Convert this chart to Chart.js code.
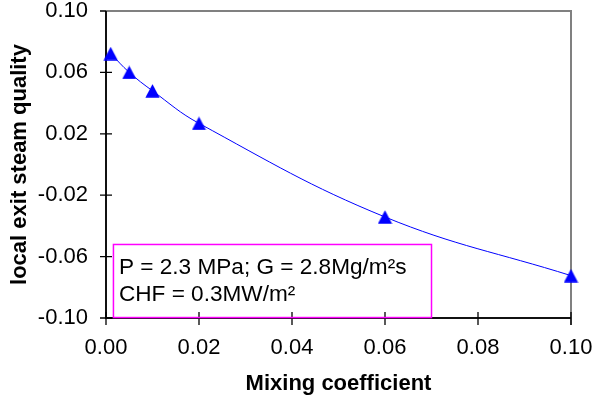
<!DOCTYPE html>
<html>
<head>
<meta charset="utf-8">
<script src="https://cdn.jsdelivr.net/npm/chart.js@4/dist/chart.umd.min.js"></script>
<style>
html,body{margin:0;padding:0;background:#fff;}
#wrap{width:593px;height:405px;}
</style>
</head>
<body>
<div id="wrap"><canvas id="c" width="593" height="405"></canvas></div>
<script>
// ---- data ----
const mixingCoefficient = [0.001, 0.005, 0.01, 0.02, 0.06, 0.10];
const exitQuality = [0.0723, 0.060, 0.048, 0.0268, -0.0342, -0.0724];
const xTicks = [0, 0.02, 0.04, 0.06, 0.08, 0.10];
const yTicks = [-0.10, -0.06, -0.02, 0.02, 0.06, 0.10];
const xTitle = 'Mixing coefficient';
const yTitle = 'local exit steam quality';
const noteLines = ['P = 2.3 MPa; G = 2.8Mg/m\u00B2s', 'CHF = 0.3MW/m\u00B2'];

const FONT = "'Liberation Sans', Arial, Helvetica, sans-serif";
Chart.defaults.font.family = FONT;
Chart.defaults.color = '#000';

// triangle marker centred on its bounding box
const tri = document.createElement('canvas');
tri.width = 15; tri.height = 14;
(function(){
  const g = tri.getContext('2d');
  g.fillStyle = '#0000FF';
  g.beginPath();
  g.moveTo(7.5, 0.3);
  g.lineTo(14.6, 13.7);
  g.lineTo(0.4, 13.7);
  g.closePath();
  g.fill();
})();

const framePlugin = {
  id: 'frame',
  beforeDatasetsDraw(chart) {
    const {ctx, chartArea: a, scales: {x, y}} = chart;
    ctx.save();
    ctx.strokeStyle = '#808080';
    ctx.lineWidth = 2;
    ctx.beginPath();
    ctx.moveTo(a.left, a.top);
    ctx.lineTo(a.right, a.top);
    ctx.lineTo(a.right, a.bottom + 7);
    ctx.stroke();
    ctx.strokeStyle = '#111';
    ctx.beginPath();
    ctx.moveTo(a.left, a.top);
    ctx.lineTo(a.left, a.bottom);
    ctx.lineTo(a.right, a.bottom);
    ctx.stroke();
    ctx.lineWidth = 1.3;
    ctx.strokeStyle = '#000';
    ctx.beginPath();
    yTicks.forEach(v => {
      const py = y.getPixelForValue(v);
      ctx.moveTo(a.left - 6, py);
      ctx.lineTo(v >= 0.1 ? a.left : a.left + 6, py);
    });
    xTicks.forEach(v => {
      const px = x.getPixelForValue(v);
      ctx.moveTo(px, a.bottom - 6);
      ctx.lineTo(px, a.bottom + 7);
    });
    ctx.stroke();
    const bx0 = x.getPixelForValue(0.0016), bx1 = x.getPixelForValue(0.07);
    const by0 = y.getPixelForValue(-0.0521), by1 = y.getPixelForValue(-0.0997);
    ctx.strokeStyle = '#FF00FF';
    ctx.lineWidth = 1.5;
    ctx.strokeRect(bx0, by0, bx1 - bx0, by1 - by0);
    ctx.fillStyle = '#000';
    ctx.font = '22.6px ' + FONT;
    ctx.textAlign = 'left';
    ctx.textBaseline = 'alphabetic';
    ctx.fillText(noteLines[0], bx0 + 5.5, by0 + 29.5);
    ctx.fillText(noteLines[1], bx0 + 5.5, by0 + 57);
    ctx.restore();
  }
};

function noPad(s) { s.paddingTop = 0; s.paddingBottom = 0; s.paddingLeft = 0; s.paddingRight = 0; }

new Chart(document.getElementById('c'), {
  type: 'line',
  data: {
    datasets: [{
      data: mixingCoefficient.map((v, i) => ({x: v, y: exitQuality[i]})),
      borderColor: '#0000FF',
      borderWidth: 1,
      backgroundColor: '#0000FF',
      pointStyle: tri,
      pointRadius: 7,
      tension: 0.4,
      fill: false,
      clip: false
    }]
  },
  options: {
    responsive: false,
    animation: false,
    events: [],
    layout: {padding: {top: 11, right: 22, left: 0, bottom: 0}},
    plugins: {legend: {display: false}, tooltip: {enabled: false}},
    scales: {
      x: {
        type: 'linear', min: 0, max: 0.1,
        afterBuildTicks: s => { s.ticks = xTicks.map(v => ({value: v})); },
        afterFit: s => { s.height = 87; noPad(s); },
        grid: {display: false, drawTicks: false},
        border: {display: false},
        ticks: {padding: 17, font: {size: 22}, maxRotation: 0, autoSkip: false,
                callback: v => Number(v).toFixed(2)},
        title: {display: true, text: xTitle, font: {size: 22, weight: 'bold'},
                padding: {top: 0, bottom: 8}}
      },
      y: {
        type: 'linear', min: -0.1, max: 0.1,
        afterBuildTicks: s => { s.ticks = yTicks.map(v => ({value: v})); },
        afterFit: s => { s.width = 106; noPad(s); },
        grid: {display: false, drawTicks: false},
        border: {display: false},
        ticks: {padding: 18, font: {size: 22}, autoSkip: false,
                callback: v => Number(v).toFixed(2)},
        title: {display: true, text: yTitle, font: {size: 22, weight: 'bold'},
                padding: {top: 7, bottom: 0}}
      }
    }
  },
  plugins: [framePlugin]
});
</script>
</body>
</html>
